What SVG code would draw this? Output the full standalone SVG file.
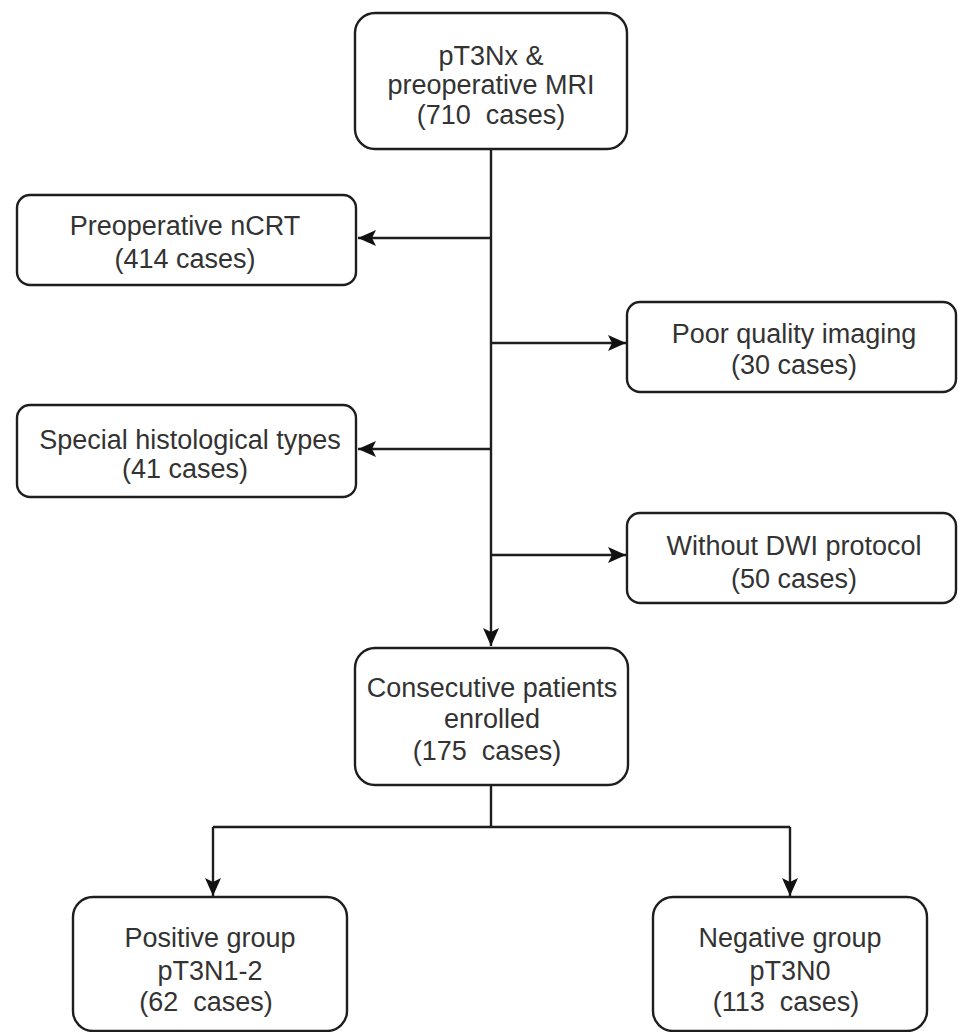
<svg xmlns="http://www.w3.org/2000/svg" width="958" height="1032" viewBox="0 0 958 1032">
<defs>
<style>
.box{fill:#fff;stroke:#1e1e1e;stroke-width:2.4}
.t{font-family:"Liberation Sans",Arial,sans-serif;font-size:27px;fill:#333;text-anchor:middle;white-space:pre}
.c{fill:none;stroke:#1e1e1e;stroke-width:2.4}
</style>
<marker id="ah" markerUnits="userSpaceOnUse" markerWidth="20" markerHeight="18" refX="18" refY="8" orient="auto">
<path d="M0,0 L18,8 L0,16 L4,8 z" fill="#111"/>
</marker>
</defs>
<rect width="958" height="1032" fill="#fff"/>
<g id="connectors">
<path class="c" d="M491,149 V646" marker-end="url(#ah)"/>
<path class="c" d="M491,238 H358" marker-end="url(#ah)"/>
<path class="c" d="M491,343 H626" marker-end="url(#ah)"/>
<path class="c" d="M491,449 H358" marker-end="url(#ah)"/>
<path class="c" d="M491,555 H626" marker-end="url(#ah)"/>
<path class="c" d="M491,785 V827"/>
<path class="c" d="M213,827 H790"/>
<path class="c" d="M213,827 V896" marker-end="url(#ah)"/>
<path class="c" d="M790,827 V896" marker-end="url(#ah)"/>
</g>
<g id="n-start">
<rect class="box" x="355" y="13" width="272" height="136" rx="20"/>
<text class="t" x="491" y="65">pT3Nx &amp;</text>
<text class="t" x="491" y="94">preoperative MRI</text>
<text class="t" x="491" y="124">(710  cases)</text>
</g>
<g id="n-ncrt">
<rect class="box" x="17" y="195" width="339" height="90" rx="13"/>
<text class="t" x="185" y="235">Preoperative nCRT</text>
<text class="t" x="185" y="268">(414 cases)</text>
</g>
<g id="n-poor">
<rect class="box" x="627" y="302" width="329" height="90" rx="13"/>
<text class="t" x="794" y="343">Poor quality imaging</text>
<text class="t" x="794" y="374">(30 cases)</text>
</g>
<g id="n-special">
<rect class="box" x="17" y="405" width="339" height="92" rx="13"/>
<text class="t" x="190" y="449">Special histological types</text>
<text class="t" x="185" y="478">(41 cases)</text>
</g>
<g id="n-dwi">
<rect class="box" x="627" y="513" width="329" height="90" rx="13"/>
<text class="t" x="794" y="555">Without DWI protocol</text>
<text class="t" x="794" y="588">(50 cases)</text>
</g>
<g id="n-enrolled">
<rect class="box" x="355" y="648" width="273" height="137" rx="20"/>
<text class="t" x="492" y="697">Consecutive patients</text>
<text class="t" x="492" y="728">enrolled</text>
<text class="t" x="487" y="760">(175  cases)</text>
</g>
<g id="n-positive">
<rect class="box" x="73" y="897" width="274" height="134" rx="20"/>
<text class="t" x="210" y="947">Positive group</text>
<text class="t" x="210" y="980">pT3N1-2</text>
<text class="t" x="206" y="1011">(62  cases)</text>
</g>
<g id="n-negative">
<rect class="box" x="653" y="897" width="274" height="134" rx="20"/>
<text class="t" x="790" y="947">Negative group</text>
<text class="t" x="790" y="980">pT3N0</text>
<text class="t" x="786" y="1011">(113  cases)</text>
</g>
</svg>
